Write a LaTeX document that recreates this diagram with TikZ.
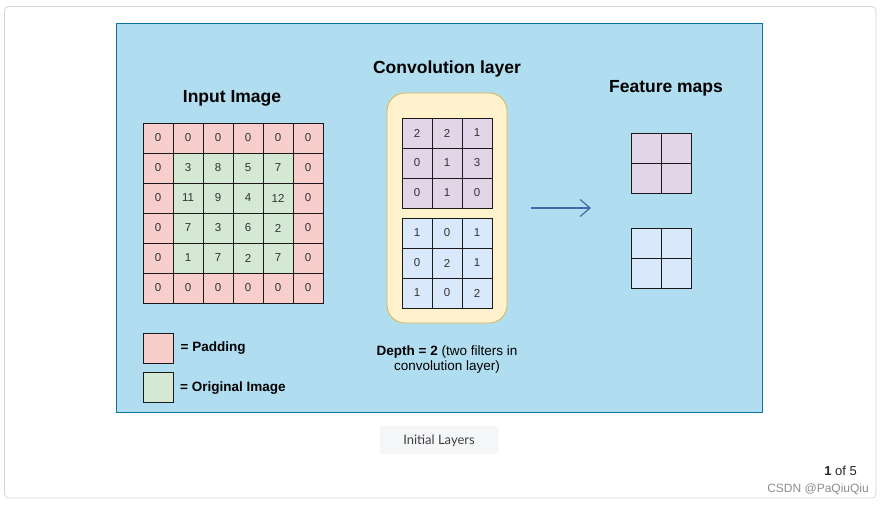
\documentclass[tikz,border=0pt]{standalone}
\usepackage{fontspec}
\setmainfont{Liberation Sans}
\newfontfamily\capfont{Lato}
\usetikzlibrary{arrows.meta}
\definecolor{panelfill}{HTML}{B1DDF0}
\definecolor{panelstroke}{HTML}{10739E}
\definecolor{pad}{HTML}{F8CECC}
\definecolor{orig}{HTML}{D5E8D4}
\definecolor{purp}{HTML}{E1D5E7}
\definecolor{lblue}{HTML}{DAE8FC}
\definecolor{yfill}{HTML}{FFF2CC}
\definecolor{ystroke}{HTML}{D6B656}
\definecolor{gridline}{HTML}{1A1A1A}
\definecolor{celltext}{HTML}{333333}
\definecolor{framegray}{HTML}{D4D4D8}
\definecolor{capbg}{HTML}{F5F6F8}
\definecolor{arrowblue}{HTML}{3F6BA8}
\tikzset{
  cell/.style={draw=gridline, line width=0.9pt, minimum size=30pt, inner sep=0pt, text=celltext, font=\fontsize{11.5}{13}\selectfont},
  title/.style={font=\fontsize{17.5}{20}\selectfont\bfseries, text=black},
  legtext/.style={font=\fontsize{13.5}{16}\selectfont\bfseries, anchor=west, inner sep=0pt}
}
\begin{document}
\begin{tikzpicture}[x=1pt,y=-1pt]
\useasboundingbox (0,0) rectangle (881,506);
\fill[white] (0,0) rectangle (881,506);
\draw[framegray, line width=0.8pt, rounded corners=4pt] (4.5,6.5) rectangle (876,498);
% panel
\draw[panelstroke, fill=panelfill, line width=0.8pt] (116.5,23.5) rectangle (762,412);
% titles
\node[title] (t-in) at (232,98.5) {Input Image};
\node[title] (t-conv) at (447,68.5) {Convolution layer};
\node[title] (t-feat) at (666,88.5) {Feature maps};
% input grid
\foreach \row [count=\r from 0] in {{0,0,0,0,0,0},{0,3,8,5,7,0},{0,11,9,4,12,0},{0,7,3,6,2,0},{0,1,7,2,7,0},{0,0,0,0,0,0}} {
  \foreach \v [count=\c from 0] in \row {
    \pgfmathtruncatemacro\isin{and(and(\r>0,\r<5),and(\c>0,\c<5))}
    \ifnum\isin=1 \def\cc{orig}\else\def\cc{pad}\fi
    \node[cell, fill=\cc] (in-\r-\c) at ({158+30*\c},{138+30*\r}) {\v};
  }
}
% convolution layer
\draw[ystroke, fill=yfill, line width=0.8pt, rounded corners=18pt] (387,93) rectangle (507,323);
\foreach \row [count=\r from 0] in {{2,2,1},{0,1,3},{0,1,0}} {
  \foreach \v [count=\c from 0] in \row {
    \node[cell, fill=purp] (fa-\r-\c) at ({417+30*\c},{133+30*\r}) {\v};
  }
}
\foreach \row [count=\r from 0] in {{1,0,1},{0,2,1},{1,0,2}} {
  \foreach \v [count=\c from 0] in \row {
    \node[cell, fill=lblue] (fb-\r-\c) at ({417+30*\c},{233+30*\r}) {\v};
  }
}
\node[align=center, font=\fontsize{13.5}{15}\selectfont, text=black] (depth) at (447,360) {\textbf{Depth = 2} (two filters in\\convolution layer)};
% arrow
\coordinate (arr-s) at (531,208);
\coordinate (arr-e) at (591,208);
\draw[arrowblue, line width=1.2pt, -{Straight Barb[length=10pt,width=17pt,line width=1.2pt]}] (arr-s) -- (arr-e);
% feature maps
\foreach \r in {0,1} { \foreach \c in {0,1} {
  \node[cell, fill=purp] (ma-\r-\c) at ({646+30*\c},{148+30*\r}) {};
  \node[cell, fill=lblue] (mb-\r-\c) at ({646+30*\c},{243+30*\r}) {};
}}
% legend
\node[cell, fill=pad] (leg-pad) at (158,348) {};
\node[cell, fill=orig] (leg-orig) at (158,387) {};
\node[legtext] (leg-pad-t) at (180.5,348.5) {= Padding};
\node[legtext] (leg-orig-t) at (180,388.5) {= Original Image};
% caption
\fill[capbg, rounded corners=3pt] (380,426) rectangle (498,454);
\node[font=\capfont\fontsize{13}{15}\selectfont, text=black!75] (cap) at (439,440.5) {Initial Layers};
\node[anchor=east, font=\fontsize{13}{15}\selectfont, text=black!85, inner sep=0pt] (page) at (857,471) {\textbf{1} of 5};
\node[anchor=east, font=\fontsize{12}{14}\selectfont, text=black!45, inner sep=0pt] (wm) at (869,489) {CSDN @PaQiuQiu};
\end{tikzpicture}
\end{document}
